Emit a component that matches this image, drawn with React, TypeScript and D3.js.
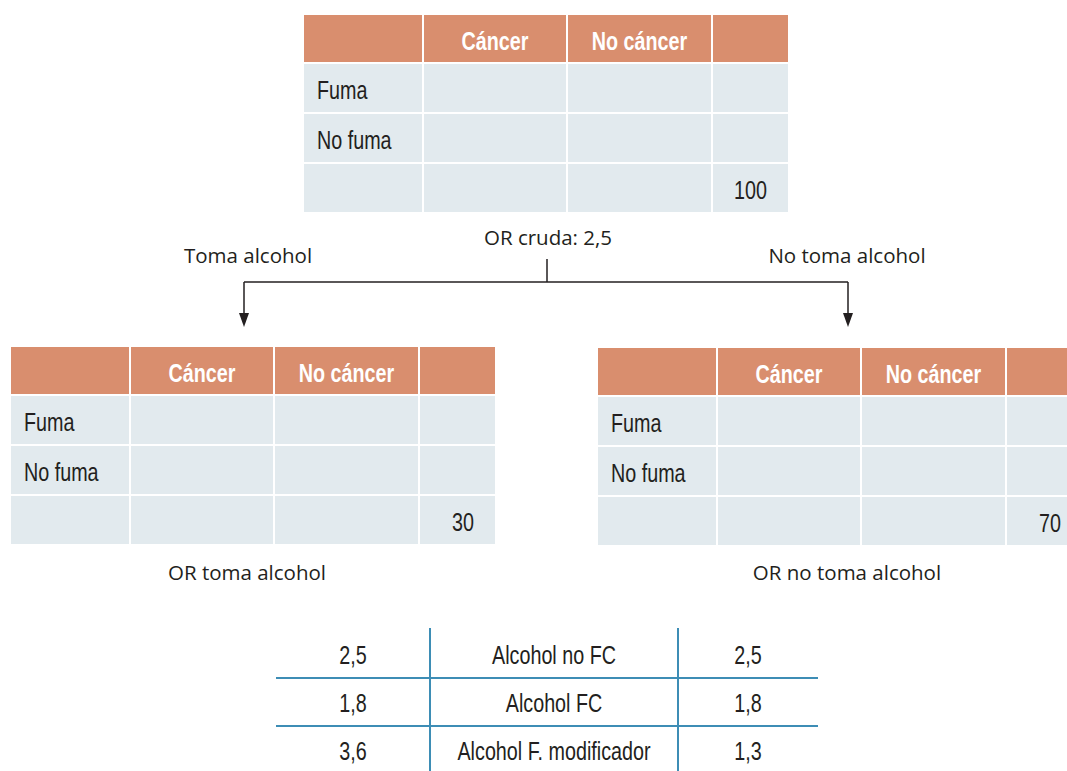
import React from "react";
import * as d3 from "d3";

// Datos de las tablas de contingencia
const headerLabels = ["", "Cáncer", "No cáncer", ""];
const rowLabels = ["Fuma", "No fuma", ""];
const strata = [
	{ key: "crude", total: "100", caption: "OR cruda: 2,5" },
	{ key: "alcohol", total: "30", caption: "OR toma alcohol" },
	{ key: "noAlcohol", total: "70", caption: "OR no toma alcohol" },
];
const branchLabels = ["Toma alcohol", "No toma alcohol"];

// Tabla resumen
const orCrude = ["2,5", "1,8", "3,6"];
const summaryLabels = ["Alcohol no FC", "Alcohol FC", "Alcohol F. modificador"];
const orAdjusted = ["2,5", "1,8", "1,3"];

const W = 1067;
const H = 771;
const HEADER_FILL = "#d98e6e";
const CELL_FILL = "#e2eaee";
const TEXT = "#231f20";
const BLUE = "#3d8db5";
const SANS = "'Liberation Sans', Arial, sans-serif";
const REGULAR = "'Open Sans', 'Liberation Sans', sans-serif";
const SQUEEZE = 0.79; // fuente condensada simulada

const colWidths = [120, 144, 145, 77];
const headerH = 48;
const rowH = 50;

// Texto estrecho (sin fuente condensada instalada)
function NText({
	x,
	y,
	anchor = "start",
	fill = TEXT,
	bold = false,
	size = 25,
	children,
}: {
	x: number;
	y: number;
	anchor?: string;
	fill?: string;
	bold?: boolean;
	size?: number;
	children: React.ReactNode;
}) {
	return (
		<text
			transform={`translate(${x},${y}) scale(${SQUEEZE},1)`}
			textAnchor={anchor}
			fill={fill}
			fontFamily={SANS}
			fontWeight={bold ? "bold" : "normal"}
			fontSize={size}
		>
			{children}
		</text>
	);
}

function Contingency({ x, y, total }: { x: number; y: number; total: string }) {
	const offsets = [0, ...d3.cumsum(colWidths)];
	const rowY = d3
		.scaleBand<number>()
		.domain(d3.range(rowLabels.length))
		.range([headerH, headerH + rowH * rowLabels.length]);
	const g = 1; // medio hueco blanco
	return (
		<g transform={`translate(${x},${y})`}>
			{colWidths.map((w, i) => (
				<g key={"h" + i}>
					<rect x={offsets[i] + g} y={0} width={w - 2 * g} height={headerH - g} fill={HEADER_FILL} />
					{headerLabels[i] && (
						<NText x={offsets[i] + w / 2} y={headerH / 2 + 11} anchor="middle" fill="#fff" bold>
							{headerLabels[i]}
						</NText>
					)}
				</g>
			))}
			{rowLabels.map((lab, r) => (
				<g key={"r" + r}>
					{colWidths.map((w, i) => (
						<rect
							key={i}
							x={offsets[i] + g}
							y={(rowY(r) as number) + g}
							width={w - 2 * g}
							height={rowY.bandwidth() - 2 * g}
							fill={CELL_FILL}
						/>
					))}
					{lab && (
						<NText x={14} y={(rowY(r) as number) + rowY.bandwidth() / 2 + 11}>
							{lab}
						</NText>
					)}
				</g>
			))}
			<NText x={offsets[4] - 22} y={(rowY(2) as number) + rowY.bandwidth() / 2 + 11} anchor="end">
				{total}
			</NText>
		</g>
	);
}

export default function App() {
	const tables = [
		{ x: 303, y: 15 },
		{ x: 10, y: 347 },
		{ x: 597, y: 348 },
	];

	// Árbol de flechas
	const stemX = 547;
	const barY = 282;
	const leftX = 244;
	const rightX = 848;
	const tipY = 327;

	// Tabla resumen
	const sumRows = d3.scaleBand<number>().domain([0, 1, 2]).range([630, 774]);
	const sumCols = [353, 554, 748];
	const sumLines = [430, 678];

	const arrowHead = (cx: number) =>
		d3.line()([
			[cx - 5, tipY - 14],
			[cx + 5, tipY - 14],
			[cx, tipY],
		]) + "Z";

	return (
		<svg width={W} height={H} style={{ position: "absolute", left: 0, top: 0, background: "#fff" }}>
			{tables.map((t, i) => (
				<Contingency key={strata[i].key} x={t.x} y={t.y} total={strata[i].total} />
			))}

			{/* Títulos de OR */}
			<text x={548} y={245} textAnchor="middle" fill={TEXT} fontFamily={REGULAR} fontSize={20.5}>
				{strata[0].caption}
			</text>
			<text x={247} y={580} textAnchor="middle" fill={TEXT} fontFamily={REGULAR} fontSize={20.5}>
				{strata[1].caption}
			</text>
			<text x={847} y={580} textAnchor="middle" fill={TEXT} fontFamily={REGULAR} fontSize={20.5}>
				{strata[2].caption}
			</text>

			{/* Ramas */}
			<text x={248} y={263} textAnchor="middle" fill={TEXT} fontFamily={REGULAR} fontSize={20.5}>
				{branchLabels[0]}
			</text>
			<text x={847} y={263} textAnchor="middle" fill={TEXT} fontFamily={REGULAR} fontSize={20.5}>
				{branchLabels[1]}
			</text>
			<g stroke={TEXT} strokeWidth={1.5} fill="none">
				<line x1={stemX} y1={259} x2={stemX} y2={barY} />
				<line x1={leftX} y1={barY} x2={rightX} y2={barY} />
				<line x1={leftX} y1={barY} x2={leftX} y2={tipY - 12} />
				<line x1={rightX} y1={barY} x2={rightX} y2={tipY - 12} />
			</g>
			<path d={arrowHead(leftX)} fill={TEXT} />
			<path d={arrowHead(rightX)} fill={TEXT} />

			{/* Tabla resumen */}
			<g stroke={BLUE} strokeWidth={2}>
				{sumLines.map((x) => (
					<line key={x} x1={x} y1={628} x2={x} y2={H} />
				))}
				{[1, 2].map((r) => (
					<line key={r} x1={276} y1={sumRows(r)} x2={818} y2={sumRows(r)} />
				))}
			</g>
			{[orCrude, summaryLabels, orAdjusted].map((col, c) =>
				col.map((v, r) => (
					<NText
						key={c + "-" + r}
						x={sumCols[c]}
						y={(sumRows(r) as number) + sumRows.bandwidth() / 2 + 10}
						anchor="middle"
					>
						{v}
					</NText>
				))
			)}
		</svg>
	);
}
